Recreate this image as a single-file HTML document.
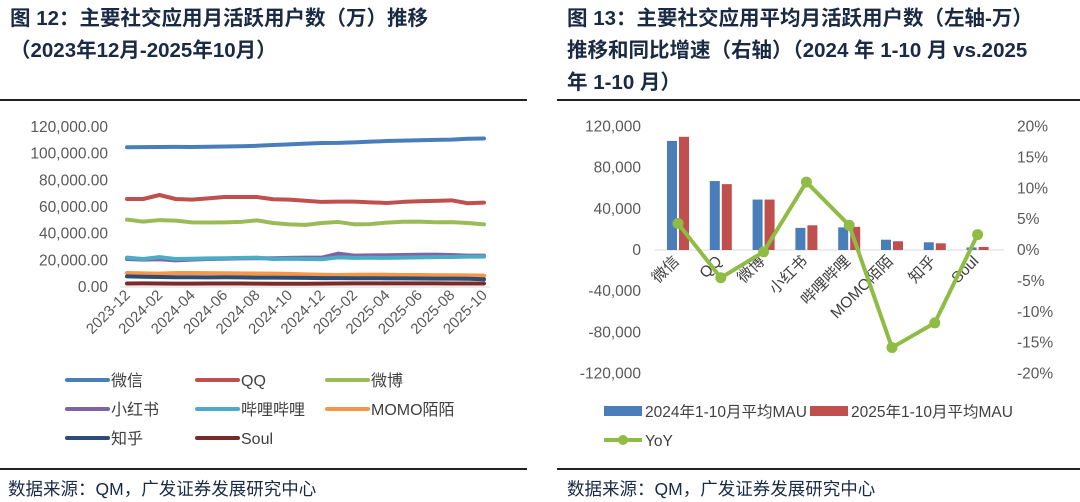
<!DOCTYPE html>
<html><head><meta charset="utf-8"><style>
body{margin:0;width:1080px;height:502px;background:#fff;overflow:hidden;font-family:"Liberation Sans","Noto Sans CJK SC",sans-serif;}
.t{position:absolute;font-weight:bold;font-size:20.5px;color:#1a2a45;line-height:32px;white-space:nowrap;}
.f{position:absolute;font-size:17.5px;color:#1a2a45;top:476px;white-space:nowrap;}
.hr{position:absolute;height:2px;background:#222;}
svg{position:absolute;left:0;top:0}
</style></head><body>
<div class="t" style="left:10px;top:3px">图 12：主要社交应用月活跃用户数（万）推移<br>（2023年12月-2025年10月）</div>
<div class="t" style="left:567px;top:3px">图 13：主要社交应用平均月活跃用户数（左轴-万）<br>推移和同比增速（右轴）（2024 年 1-10 月 vs.2025<br>年 1-10 月）</div>
<div class="hr" style="left:0;top:99px;width:527px"></div>
<div class="hr" style="left:557px;top:99px;width:523px"></div>
<div class="hr" style="left:0;top:468px;width:527px"></div>
<div class="hr" style="left:557px;top:468px;width:523px"></div>
<div class="f" style="left:8px">数据来源：QM，广发证券发展研究中心</div>
<div class="f" style="left:567px">数据来源：QM，广发证券发展研究中心</div>
<svg id="s" width="1080" height="502"></svg>
<script>
const months=["2023-12","2024-01","2024-02","2024-03","2024-04","2024-05","2024-06","2024-07","2024-08","2024-09","2024-10","2024-11","2024-12","2025-01","2025-02","2025-03","2025-04","2025-05","2025-06","2025-07","2025-08","2025-09","2025-10"];
const seriesNames=["微信","QQ","微博","小红书","哔哩哔哩","MOMO陌陌","知乎","Soul"];
const wechat=[104800,104900,105000,105100,105000,105200,105400,105600,105900,106500,107000,107500,108000,108100,108500,109000,109500,109800,110100,110300,110500,111200,111400];
const qq=[66000,66000,69000,66000,65500,66500,67500,67500,67500,65800,65500,64700,63800,64000,64000,63500,63000,63800,64300,64600,65000,62800,63300];
const weibo=[50500,49000,50200,49800,48500,48400,48500,48800,50000,48000,47000,46600,48000,48800,47000,47200,48300,48900,49000,48600,48700,48000,47000];
const xhs=[21000,20500,20800,20000,20500,21000,21200,21500,21600,21600,21800,22000,22000,25000,23500,23700,23800,24000,24200,24300,24000,23500,23500];
const bili=[22000,21000,22400,21000,21200,21500,21600,21800,22000,21000,21200,21000,20800,22200,21800,21900,21800,22000,22200,22400,22500,22800,22800];
const momo=[10500,10200,10000,10500,10500,10400,10300,10200,10100,10000,9800,9500,9200,9000,9200,9300,9200,9000,9000,8800,8800,8700,8500];
const zhihu=[8000,7700,7500,7300,7300,7200,7300,7200,7000,7000,6900,6800,6700,6700,6600,6600,6500,6500,6400,6300,6300,6200,5800];
const soul=[2600,2700,2600,2500,2500,2600,2600,2600,2500,2400,2400,2400,2500,2600,2700,2700,2700,2700,2700,2700,2600,2600,2600];
const leftTicks=[0,20000,40000,60000,80000,100000,120000];
const apps=["微信","QQ","微博","小红书","哔哩哔哩","MOMO陌陌","知乎","Soul"];
const mau2024=[106000,67000,49000,21500,22000,10000,7500,2500];
const mau2025=[110000,64000,49000,24000,22500,8500,6500,3000];
const yoy=[4.3,-4.5,-0.3,11,4,-15.8,-11.8,2.5];
const rTicksL=[-120000,-80000,-40000,0,40000,80000,120000];
const rTicksR=[-20,-15,-10,-5,0,5,10,15,20];

const S=document.getElementById('s');const NS="http://www.w3.org/2000/svg";
function el(t,a,txt){const e=document.createElementNS(NS,t);for(const k in a)e.setAttribute(k,a[k]);if(txt!=null)e.textContent=txt;S.appendChild(e);return e;}
const fnt='"Liberation Sans","Noto Sans CJK SC",sans-serif';
const lx=i=>127+i*(357/(months.length-1));
const ly=v=>287-v/120000*160;
leftTicks.forEach(v=>{const t=el('text',{x:108,y:ly(v)+5,'text-anchor':'end','font-size':15.5,fill:'#595959','font-family':fnt},v.toLocaleString('en-US',{minimumFractionDigits:2}));
});
const ax=el('line',{x1:120,x2:490,y1:287,y2:287,stroke:'#d9d9d9','stroke-width':1});

months.forEach((m,i)=>{if(i%2)return;const x=lx(i)+4,y=296;
const t=el('text',{x:x,y:y,'text-anchor':'end','font-size':15,fill:'#595959','font-family':fnt,transform:`rotate(-45 ${x} ${y})`},m);
});
const data=[wechat,qq,weibo,xhs,bili,momo,zhihu,soul];
const cols=["#4a7ebb","#c0504d","#9bbb59","#8064a2","#4bacc6","#f79646","#2c4d75","#772c2a"];
const draw=[7,5,6,3,4,2,1,0];
draw.forEach(k=>{const p=el('polyline',{points:data[k].map((v,i)=>lx(i)+','+ly(v)).join(' '),fill:'none',stroke:cols[k],'stroke-width':4,'stroke-linejoin':'round','stroke-linecap':'round'});
});
seriesNames.forEach((n,k)=>{const cx=[67,197,327][k%3],cy=380+Math.floor(k/3)*29;
const l=el('line',{x1:cx,x2:cx+41,y1:cy,y2:cy,stroke:cols[k],'stroke-width':4,'stroke-linecap':'round'});

const t=el('text',{x:cx+44,y:cy+6,'font-size':16,fill:'#404040','font-family':fnt},n);
});
const rx=i=>678+i*42.8;
const ryl=v=>250-v/120000*123.5;
const ryr=v=>250-v/20*123.5;
rTicksL.forEach(v=>{const t=el('text',{x:641,y:ryl(v)+5,'text-anchor':'end','font-size':15.5,fill:'#595959','font-family':fnt},v.toLocaleString('en-US'));
});
rTicksR.forEach(v=>{const t=el('text',{x:1017,y:ryr(v)+5,'text-anchor':'start','font-size':15.5,fill:'#595959','font-family':fnt},v+'%');
});
const ax2=el('line',{x1:655,x2:1004,y1:250,y2:250,stroke:'#d9d9d9','stroke-width':1});

apps.forEach((a,i)=>{const c=rx(i);
const b1=el('rect',{x:c-11,y:ryl(mau2024[i]),width:10,height:250-ryl(mau2024[i]),fill:'#4a7ebb'});

const b2=el('rect',{x:c+1,y:ryl(mau2025[i]),width:10,height:250-ryl(mau2025[i]),fill:'#c0504d'});

const x=c+2,y=262;
const t=el('text',{x:x,y:y,'text-anchor':'end','font-size':15.5,fill:'#404040','font-family':fnt,transform:`rotate(-45 ${x} ${y})`},a);
});
const yl=el('polyline',{points:yoy.map((v,i)=>rx(i)+','+ryr(v)).join(' '),fill:'none',stroke:'#8fbc45','stroke-width':4,'stroke-linejoin':'round'});

yoy.forEach((v,i)=>{const d=el('circle',{cx:rx(i),cy:ryr(v),r:5.5,fill:'#8fbc45'});
});
const lg=[[604,411,'#4a7ebb','2024年1-10月平均MAU'],[810,411,'#c0504d','2025年1-10月平均MAU']];
lg.forEach(g=>{const r=el('rect',{x:g[0],y:g[1]-5,width:38,height:10,fill:g[2]});

const t=el('text',{x:g[0]+41,y:g[1]+6,'font-size':15.5,fill:'#404040','font-family':fnt},g[3]);
});
const yl2=el('line',{x1:604,x2:642,y1:440,y2:440,stroke:'#8fbc45','stroke-width':4});

const yc=el('circle',{cx:623,cy:440,r:5,fill:'#8fbc45'});

const yt=el('text',{x:645,y:446,'font-size':15.5,fill:'#404040','font-family':fnt},'YoY');

</script>
</body></html>
